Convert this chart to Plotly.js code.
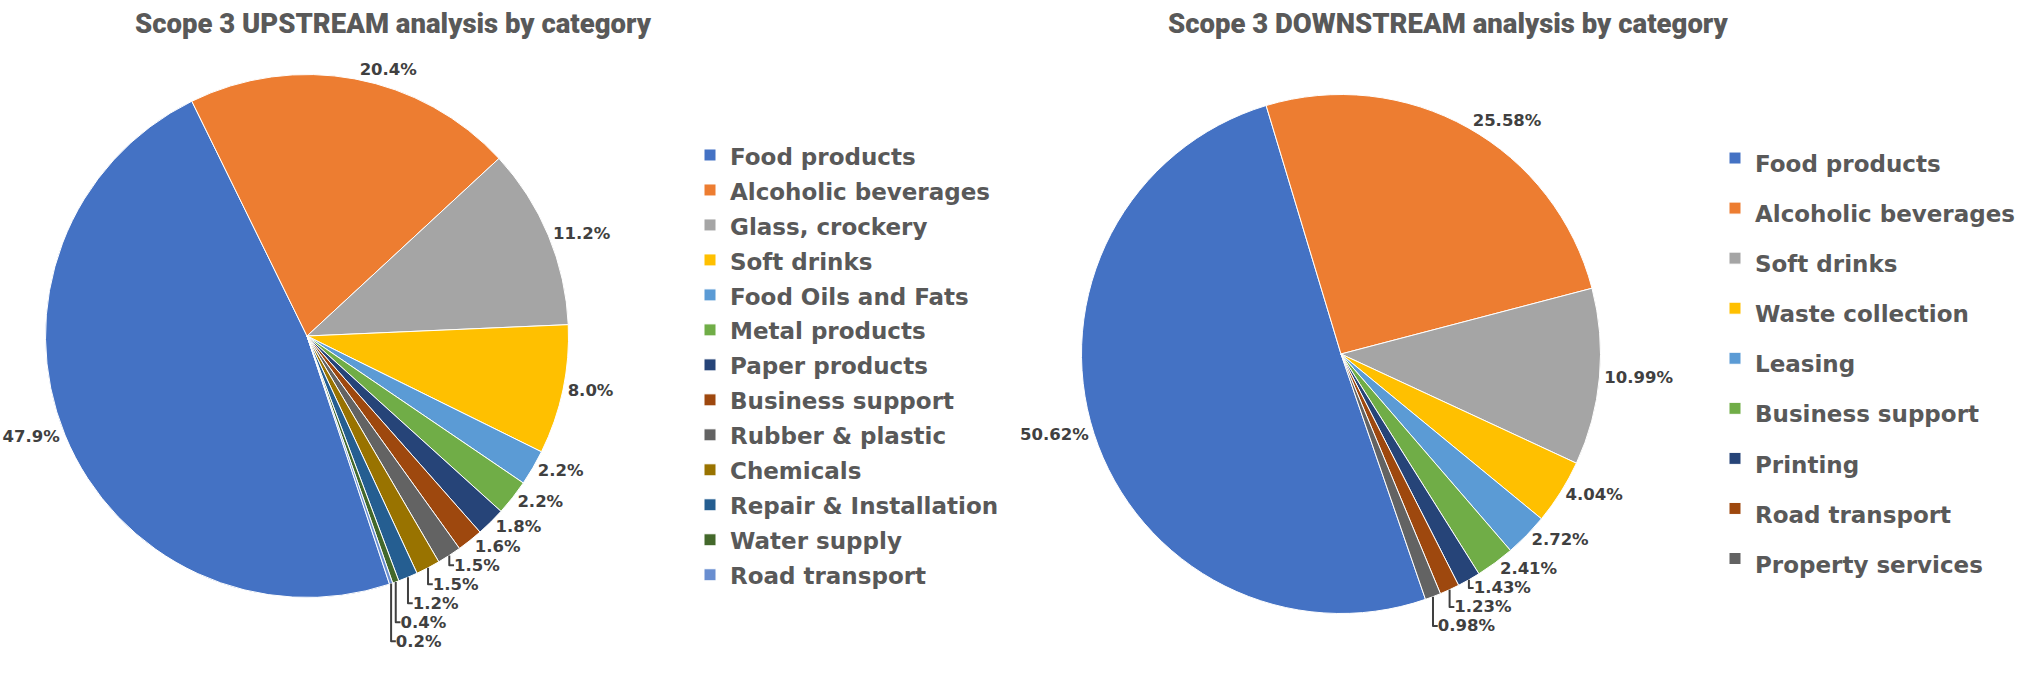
<!DOCTYPE html>
<html><head><meta charset="utf-8">
<script src="https://cdn.plot.ly/plotly-3.0.1.min.js"></script>
<style>html,body{margin:0;padding:0;background:#fff;} #chart{width:2035px;height:681px;}</style>
</head><body><div id="chart"></div>
<script>
// ---- data ----
const upTitle = 'Scope 3 UPSTREAM analysis by category';
const upCategories = ['Food products','Alcoholic beverages','Glass, crockery','Soft drinks','Food Oils and Fats','Metal products','Paper products','Business support','Rubber & plastic','Chemicals','Repair & Installation','Water supply','Road transport'];
const upValues = [47.9, 20.4, 11.2, 8.0, 2.2, 2.2, 1.8, 1.6, 1.5, 1.5, 1.2, 0.4, 0.2];
const upColors = ['#4472C4','#ED7D31','#A5A5A5','#FFC000','#5B9BD5','#70AD47','#264478','#9E480E','#636363','#997300','#255E91','#43682B','#698ED0'];

const downTitle = 'Scope 3 DOWNSTREAM analysis by category';
const downCategories = ['Food products','Alcoholic beverages','Soft drinks','Waste collection','Leasing','Business support','Printing','Road transport','Property services'];
const downValues = [50.62, 25.58, 10.99, 4.04, 2.72, 2.41, 1.43, 1.23, 0.98];
const downColors = ['#4472C4','#ED7D31','#A5A5A5','#FFC000','#5B9BD5','#70AD47','#264478','#9E480E','#636363'];

// ---- layout helpers ----
const W = 2035, H = 681;
function dom(cx, cy, r) {
  return {x: [(cx - r) / W, (cx + r) / W], y: [1 - (cy + r) / H, 1 - (cy - r) / H]};
}
// distinct span styles keep the two pies' legend entries separate
const upLegendText = c => '<span style="font-size:23px">' + c + '</span>';
const downLegendText = c => '<span style="font-size:23px;">' + c + '</span>';
const labelFont = {family: 'DejaVu Sans', size: 16.5, color: '#404040', weight: 'bold'};

const traces = [
  {
    type: 'pie', labels: upCategories.map(upLegendText), values: upValues,
    marker: {colors: upColors, line: {color: '#ffffff', width: 1}},
    sort: false, direction: 'clockwise', rotation: 161.6,
    domain: dom(307, 336, 261.5),
    textposition: 'outside', texttemplate: '%{value:.1f}%',
    textfont: labelFont, outsidetextfont: labelFont,
    automargin: false, legend: 'legend', hoverinfo: 'label+percent'
  },
  {
    type: 'pie', labels: downCategories.map(downLegendText), values: downValues,
    marker: {colors: downColors, line: {color: '#ffffff', width: 1}},
    sort: false, direction: 'clockwise', rotation: 161.0,
    domain: dom(1341, 354, 259.5),
    textposition: 'outside', texttemplate: '%{value:.2f}%',
    textfont: labelFont, outsidetextfont: labelFont,
    automargin: false, legend: 'legend2', hoverinfo: 'label+percent'
  }
];

const titleFont = {family: 'Roboto', size: 27.5, color: '#595959', weight: 900};
const layout = {
  width: W, height: H,
  margin: {l: 0, r: 0, t: 0, b: 0, autoexpand: false},
  paper_bgcolor: '#ffffff', plot_bgcolor: '#ffffff',
  showlegend: true,
  legend: {
    x: 690 / W, y: 1 - 132.5 / H, xanchor: 'left', yanchor: 'top',
    font: {family: 'DejaVu Sans', size: 24.6, color: '#595959', weight: 'bold'},
    bgcolor: 'rgba(0,0,0,0)', borderwidth: 0, traceorder: 'normal'
  },
  legend2: {
    x: 1715 / W, y: 1 - 128 / H, xanchor: 'left', yanchor: 'top',
    font: {family: 'DejaVu Sans', size: 36.2, color: '#595959', weight: 'bold'},
    bgcolor: 'rgba(0,0,0,0)', borderwidth: 0, traceorder: 'normal'
  },
  annotations: [
    {text: upTitle, x: 393 / W, y: 1 - 23.5 / H, xref: 'paper', yref: 'paper', xanchor: 'center', yanchor: 'middle', showarrow: false, font: titleFont},
    {text: downTitle, x: 1448 / W, y: 1 - 23.5 / H, xref: 'paper', yref: 'paper', xanchor: 'center', yanchor: 'middle', showarrow: false, font: titleFont}
  ]
};

Plotly.newPlot('chart', traces, layout, {displayModeBar: false, responsive: false});
</script>
</body></html>
